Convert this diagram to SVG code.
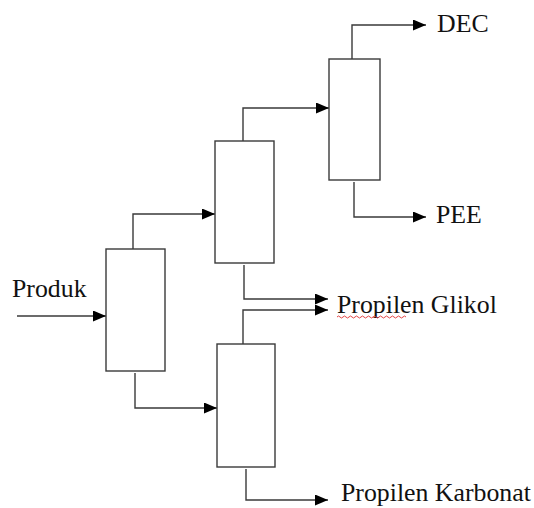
<svg xmlns="http://www.w3.org/2000/svg" width="534" height="508" viewBox="0 0 534 508">
<style>
.col{fill:#fff;stroke:#3a3a3a;stroke-width:1.4}
.ln{fill:none;stroke:#3a3a3a;stroke-width:1.4;marker-end:url(#ah)}
text{font-family:"Liberation Serif","Times New Roman",serif;font-size:25.8px;fill:#111}
</style>
<defs>
<marker id="ah" markerUnits="userSpaceOnUse" markerWidth="14" markerHeight="12" refX="13" refY="5.5" orient="auto">
<path d="M0,0 L13,5.5 L0,11 z" fill="#000"/>
</marker>
</defs>
<rect width="534" height="508" fill="#fff"/>
<g id="connectors">
<path class="ln" d="M17,316 H106"/>
<path class="ln" d="M133,249 V214 H215"/>
<path class="ln" d="M135,373 V408 H217"/>
<path class="ln" d="M243,141 V108 H329"/>
<path class="ln" d="M352,59 V25 H426"/>
<path class="ln" d="M354,182 V217 H426"/>
<path class="ln" d="M244,265 V299 H328"/>
<path class="ln" d="M243,344 V310 H328"/>
<path class="ln" d="M246,469 V500 H328"/>
</g>
<g id="col1"><rect class="col" x="106" y="249" width="59" height="122"/></g>
<g id="col2"><rect class="col" x="215" y="141" width="59" height="122"/></g>
<g id="col3"><rect class="col" x="329" y="59" width="51" height="121"/></g>
<g id="col4"><rect class="col" x="217" y="344" width="58" height="123"/></g>
<g id="labels">
<text x="12" y="297">Produk</text>
<text x="437" y="32">DEC</text>
<text x="436" y="223">PEE</text>
<text x="337" y="313">Propilen Glikol</text>
<text x="341" y="501">Propilen Karbonat</text>
<path d="M337,317 q1.5,-2 3,0 t3,0 t3,0 t3,0 t3,0 t3,0 t3,0 t3,0 t3,0 t3,0 t3,0 t3,0 t3,0 t3,0 t3,0 t3,0 t3,0 t3,0 t3,0 t3,0 t3,0 t3,0 t3,0" fill="none" stroke="#e03030" stroke-width="0.9"/>
</g>
</svg>
